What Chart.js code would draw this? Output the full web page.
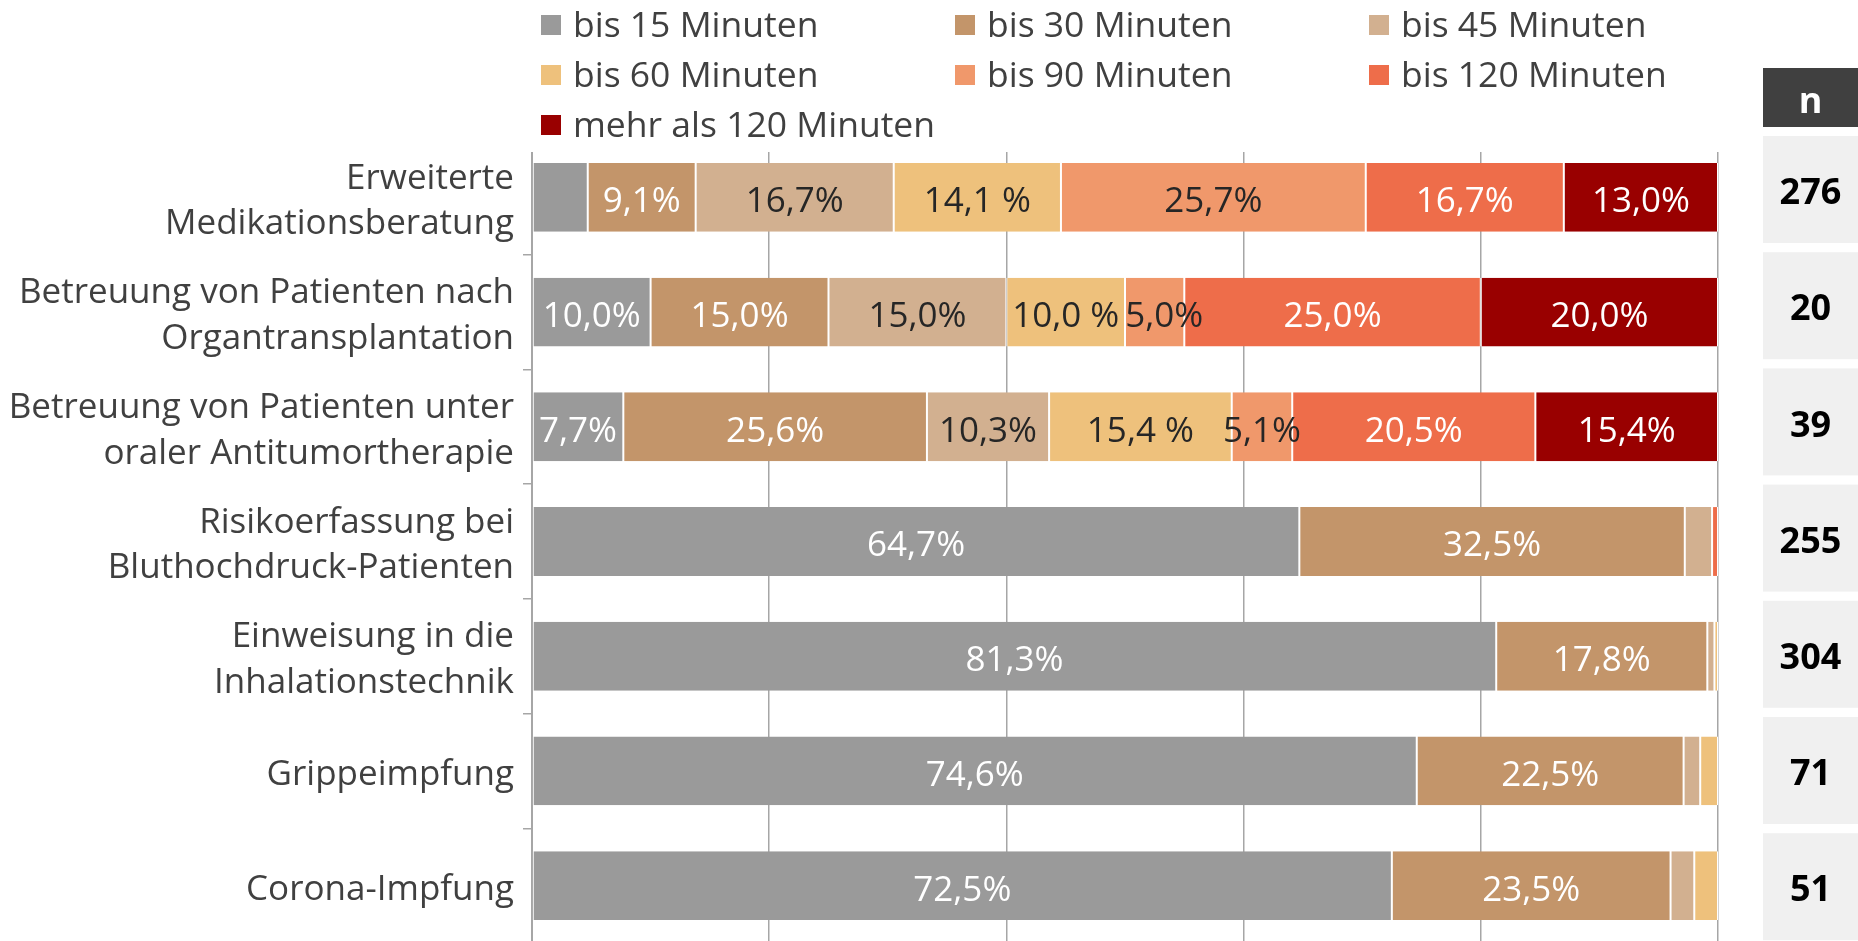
<!DOCTYPE html>
<html lang="de">
<head>
<meta charset="utf-8">
<title>Zeitaufwand pharmazeutische Dienstleistungen</title>
<script src="https://cdn.jsdelivr.net/npm/chart.js@4.4.1/dist/chart.umd.min.js"></script>
<style>
    html, body { margin: 0; padding: 0; background: #fff; overflow: hidden; }
    #chart { display: block; }
</style>
</head>
<body>
<canvas id="chart" width="1858" height="945"></canvas>
<script>
// Kategorien (mehrzeilige Achsenbeschriftung)
const categories = [
    ['Erweiterte', 'Medikationsberatung'],
    ['Betreuung von Patienten nach', 'Organtransplantation'],
    ['Betreuung von Patienten unter', 'oraler Antitumortherapie'],
    ['Risikoerfassung bei', 'Bluthochdruck-Patienten'],
    ['Einweisung in die', 'Inhalationstechnik'],
    ['Grippeimpfung'],
    ['Corona-Impfung']
];

// Serien (Anteile in %)
const seriesNames = ['bis 15 Minuten', 'bis 30 Minuten', 'bis 45 Minuten', 'bis 60 Minuten',
    'bis 90 Minuten', 'bis 120 Minuten', 'mehr als 120 Minuten'];
const bis15  = [4.7, 10.0, 7.7, 64.7, 81.3, 74.6, 72.5];
const bis30  = [9.1, 15.0, 25.6, 32.5, 17.8, 22.5, 23.5];
const bis45  = [16.7, 15.0, 10.3, 2.3, 0.6, 1.4, 2.0];
const bis60  = [14.1, 10.0, 15.4, 0, 0.3, 1.5, 2.0];
const bis90  = [25.7, 5.0, 5.1, 0, 0, 0, 0];
const bis120 = [16.7, 25.0, 20.5, 0.5, 0, 0, 0];
const mehr120 = [13.0, 20.0, 15.4, 0, 0, 0, 0];

// Stichprobengröße je Dienstleistung
const nValues = [276, 20, 39, 255, 304, 71, 51];

const colors = ['#9a9a9a', '#c3956a', '#d2b090', '#eec17c', '#f0986b', '#ee6d4a', '#990000'];
const labelColors = ['#ffffff', '#ffffff', '#262626', '#262626', '#262626', '#ffffff', '#ffffff'];
const FONT = '"Open Sans", "Noto Sans", sans-serif';

const allSeries = [bis15, bis30, bis45, bis60, bis90, bis120, mehr120];

// Prozentformat wie im Original (bis 60 mit Leerzeichen vor %)
const formatPct = (v, i) => v.toFixed(1).replace('.', ',') + (i === 3 ? ' %' : '%');

// Gitterlinien oben etwas kürzen (wie im Original)
const gridTrim = {
    id: 'gridTrim',
    beforeDatasetsDraw(chart) {
        const a = chart.chartArea;
        const ctx = chart.ctx;
        ctx.save();
        ctx.fillStyle = '#ffffff';
        ctx.fillRect(a.left - 12, a.top - 2, a.right - a.left + 16, 14);
        ctx.restore();
    }
};

// Werte in die Balken schreiben, Überlappungen nach rechts schieben
const barLabels = {
    id: 'barLabels',
    afterDatasetsDraw(chart) {
        const ctx = chart.ctx;
        ctx.save();
        ctx.font = '35px ' + FONT;
        ctx.textAlign = 'center';
        ctx.textBaseline = 'middle';
        chart.data.labels.forEach((_, j) => {
            let lastRight = -Infinity;
            chart.data.datasets.forEach((ds, i) => {
                const v = ds.data[j];
                if (v < 5) return;
                const p = chart.getDatasetMeta(i).data[j].getCenterPoint();
                const text = formatPct(v, i);
                const w = ctx.measureText(text).width;
                let x = p.x;
                if (x - w / 2 < lastRight + 6) x = lastRight + 6 + w / 2;
                lastRight = x + w / 2;
                ctx.fillStyle = labelColors[i];
                ctx.fillText(text, x, p.y + 5);
            });
        });
        ctx.restore();
    }
};

// Legende in drei Spalten oben
const topLegend = {
    id: 'topLegend',
    afterDraw(chart) {
        const ctx = chart.ctx;
        const colX = [541, 955, 1369];
        const rowY = [25, 75, 125];
        ctx.save();
        ctx.font = '35.5px ' + FONT;
        ctx.textBaseline = 'middle';
        ctx.textAlign = 'left';
        chart.data.datasets.forEach((ds, i) => {
            const x = colX[i % 3];
            const y = rowY[Math.floor(i / 3)];
            ctx.fillStyle = ds.backgroundColor;
            ctx.fillRect(x, y - 10, 20, 20);
            ctx.fillStyle = '#404040';
            ctx.fillText(ds.label, x + 32, y + 2);
        });
        ctx.restore();
    }
};

// n-Spalte rechts
const nTable = {
    id: 'nTable',
    afterDraw(chart) {
        const ctx = chart.ctx;
        const x = 1763, w = 95;
        ctx.save();
        ctx.fillStyle = '#404040';
        ctx.fillRect(x, 68, w, 59);
        ctx.textAlign = 'center';
        ctx.textBaseline = 'middle';
        ctx.font = 'bold 36px ' + FONT;
        ctx.fillStyle = '#ffffff';
        ctx.fillText('n', x + w / 2, 103);
        nValues.forEach((n, i) => {
            const top = 136 + i * 116.2;
            ctx.fillStyle = '#f0f0f0';
            ctx.fillRect(x, top, w, 107);
            ctx.fillStyle = '#000000';
            ctx.fillText(String(n), x + w / 2, top + 58);
        });
        ctx.restore();
    }
};

const ctx = document.getElementById('chart').getContext('2d');
new Chart(ctx, {
    type: 'bar',
    data: {
        labels: categories,
        datasets: allSeries.map((data, i) => ({
            label: seriesNames[i],
            data: data,
            backgroundColor: colors[i],
            borderColor: '#ffffff',
            borderWidth: { left: 1, right: 1, top: 0, bottom: 0 },
            borderSkipped: false,
            barPercentage: 0.6,
            categoryPercentage: 1
        }))
    },
    options: {
        indexAxis: 'y',
        responsive: false,
        animation: false,
        layout: { padding: { top: 140, right: 140, bottom: 2, left: 0 } },
        plugins: {
            legend: { display: false },
            tooltip: { enabled: false }
        },
        scales: {
            x: {
                stacked: true,
                min: 0,
                max: 100,
                ticks: { display: false, stepSize: 20 },
                grid: { color: '#a6a6a6', lineWidth: 1.5, drawTicks: false },
                border: { display: false }
            },
            y: {
                stacked: true,
                afterFit: (scale) => {
                    scale.width = 532;
                    scale.paddingTop = 0;
                    scale.paddingBottom = 0;
                },
                ticks: {
                    color: '#404040',
                    padding: 9,
                    labelOffset: 4,
                    font: { family: FONT, size: 35, lineHeight: 1.3 }
                },
                grid: { drawOnChartArea: false, tickLength: 9, color: '#a6a6a6', lineWidth: 1.5 },
                border: { display: true, color: '#a6a6a6', width: 2 }
            }
        }
    },
    plugins: [gridTrim, barLabels, topLegend, nTable]
});
</script>
</body>
</html>
